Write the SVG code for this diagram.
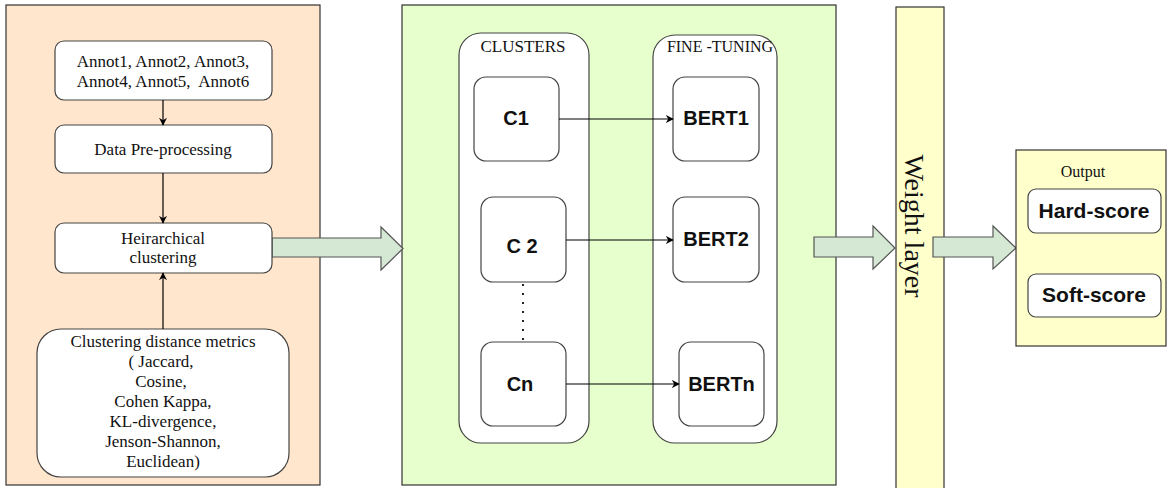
<svg xmlns="http://www.w3.org/2000/svg" width="1168" height="488" viewBox="0 0 1168 488">
<style>
.panel{stroke:#333;stroke-width:1.2}
.box{fill:#fff;stroke:#444;stroke-width:1.2}
.serif{font-family:"Liberation Serif","Times New Roman",serif;fill:#111;text-anchor:middle}
.sans{font-family:"Liberation Sans",Arial,sans-serif;font-weight:bold;fill:#111;text-anchor:middle}
.conn{stroke:#000;stroke-width:1.2;fill:none}
.block{fill:#d5e8d4;stroke:#555;stroke-width:1.2}
</style>
<defs>
<marker id="ah" viewBox="0 0 10 10" refX="9" refY="5" markerWidth="8" markerHeight="8" markerUnits="userSpaceOnUse" orient="auto">
<path d="M0,0 L10,5 L0,10 L3,5 Z" fill="#000"/>
</marker>
</defs>
<rect width="1168" height="488" fill="#fff"/>

<g id="left-panel">
<rect class="panel" x="6" y="5" width="314" height="480" fill="#ffe6cc"/>
</g>
<g id="green-panel">
<rect class="panel" x="402" y="5" width="434" height="480" fill="#e6ffcc"/>
</g>

<g id="arrow-to-clusters">
<path class="block" d="M272,238 L381,238 L381,227 L403,248.5 L381,270 L381,257 L272,257 Z"/>
</g>

<g id="annot">
<rect class="box" x="55" y="41" width="217" height="59" rx="9"/>
<text class="serif" font-size="17" x="163" y="67">Annot1, Annot2, Annot3,</text>
<text class="serif" font-size="17" x="163" y="87">Annot4, Annot5,&#160; Annot6</text>
</g>
<g id="preprocessing">
<rect class="box" x="55" y="125" width="217" height="48" rx="9"/>
<text class="serif" font-size="17" x="163" y="155">Data Pre-processing</text>
</g>
<g id="hierarchical">
<rect class="box" x="55" y="223" width="217" height="50" rx="9"/>
<text class="serif" font-size="17" x="163" y="244">Heirarchical</text>
<text class="serif" font-size="17" x="163" y="263">clustering</text>
</g>
<g id="metrics">
<rect class="box" x="37" y="329" width="252" height="148" rx="24"/>
<text class="serif" font-size="17" x="163" y="347">Clustering distance metrics</text>
<text class="serif" font-size="17" x="161" y="367">( Jaccard,</text>
<text class="serif" font-size="17" x="161" y="387">Cosine,</text>
<text class="serif" font-size="17" x="163" y="407">Cohen Kappa,</text>
<text class="serif" font-size="17" x="163" y="427">KL-divergence,</text>
<text class="serif" font-size="17" x="163" y="447">Jenson-Shannon,</text>
<text class="serif" font-size="17" x="163" y="467">Euclidean)</text>
</g>

<g id="clusters">
<rect class="box" x="459" y="33" width="130" height="410" rx="22"/>
<text class="serif" font-size="17" x="523" y="52">CLUSTERS</text>
</g>
<g id="finetuning">
<rect class="box" x="653" y="35" width="124" height="408" rx="22"/>
<text class="serif" font-size="16" x="720" y="52">FINE -TUNING</text>
</g>

<g id="c1">
<rect class="box" x="474" y="77" width="85" height="84" rx="12"/>
<text class="sans" font-size="20" x="516" y="125">C1</text>
</g>
<g id="c2">
<rect class="box" x="481" y="197" width="85" height="85" rx="12"/>
<text class="sans" font-size="20" x="522" y="253">C 2</text>
</g>
<g id="cn">
<rect class="box" x="481" y="342" width="85" height="84" rx="12"/>
<text class="sans" font-size="20" x="520" y="391">Cn</text>
</g>
<g id="bert1">
<rect class="box" x="673" y="77" width="86" height="84" rx="12"/>
<text class="sans" font-size="20" x="716" y="125">BERT1</text>
</g>
<g id="bert2">
<rect class="box" x="673" y="197" width="86" height="85" rx="12"/>
<text class="sans" font-size="20" x="716" y="246">BERT2</text>
</g>
<g id="bertn">
<rect class="box" x="679" y="342" width="85" height="84" rx="12"/>
<text class="sans" font-size="20" x="721.5" y="391">BERTn</text>
</g>

<g id="weight-layer">
<rect class="panel" x="896" y="7" width="48" height="485" fill="#ffffcc"/>
<text class="serif" font-size="28" transform="translate(905,226) rotate(90)">Weight layer</text>
</g>

<g id="arrow-to-weight">
<path class="block" d="M814,237 L873,237 L873,226 L895,248 L873,269 L873,257 L814,257 Z"/>
</g>
<g id="arrow-to-output">
<path class="block" d="M933,237 L993,237 L993,226 L1016,248 L993,269 L993,257 L933,257 Z"/>
</g>

<g id="output">
<rect class="panel" x="1016" y="150" width="150" height="196" fill="#ffffcc"/>
<text class="serif" font-size="16" x="1083" y="177">Output</text>
</g>
<g id="hard-score">
<rect class="box" x="1028" y="189" width="133" height="44" rx="8"/>
<text class="sans" font-size="21" x="1094" y="218">Hard-score</text>
</g>
<g id="soft-score">
<rect class="box" x="1028" y="274" width="133" height="43" rx="8"/>
<text class="sans" font-size="21" x="1094" y="302">Soft-score</text>
</g>

<g id="connectors">
<line class="conn" x1="163" y1="100" x2="163" y2="125" marker-end="url(#ah)"/>
<line class="conn" x1="163" y1="173" x2="163" y2="223" marker-end="url(#ah)"/>
<line class="conn" x1="163" y1="329" x2="163" y2="273" marker-end="url(#ah)"/>
<line class="conn" x1="559" y1="119" x2="673" y2="119" marker-end="url(#ah)"/>
<line class="conn" x1="566" y1="240" x2="673" y2="240" marker-end="url(#ah)"/>
<line class="conn" x1="566" y1="384" x2="679" y2="384" marker-end="url(#ah)"/>
<line stroke="#222" stroke-width="2" stroke-dasharray="2 7" x1="523" y1="284" x2="523" y2="342"/>
</g>
</svg>
